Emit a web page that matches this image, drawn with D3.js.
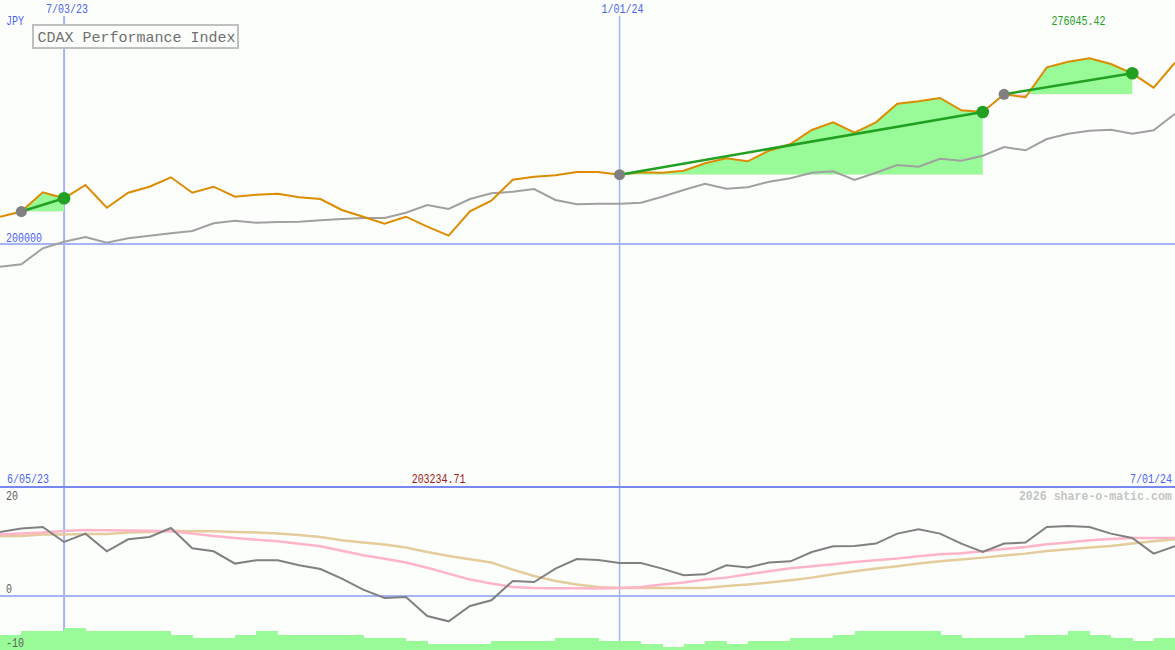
<!DOCTYPE html>
<html>
<head>
<meta charset="utf-8">
<script src="https://cdn.jsdelivr.net/npm/d3@7"></script>
<style>
html,body{margin:0;padding:0;background:#fcfefc;}
svg{display:block;}
text{font-family:"Liberation Mono","DejaVu Sans Mono",monospace;}
</style>
</head>
<body>
<svg id="chart" width="1175" height="650"></svg>
<script>
// ---------------- DATA ----------------
const dates = ["2023-06-12","2023-06-19","2023-06-26","2023-07-03","2023-07-10","2023-07-17","2023-07-24","2023-07-31","2023-08-07","2023-08-14","2023-08-21","2023-08-28","2023-09-04","2023-09-11","2023-09-18","2023-09-25","2023-10-02","2023-10-09","2023-10-16","2023-10-23","2023-10-30","2023-11-06","2023-11-13","2023-11-20","2023-11-27","2023-12-04","2023-12-11","2023-12-18","2023-12-25","2024-01-01","2024-01-08","2024-01-15","2024-01-22","2024-01-29","2024-02-05","2024-02-12","2024-02-19","2024-02-26","2024-03-04","2024-03-11","2024-03-18","2024-03-25","2024-04-01","2024-04-08","2024-04-15","2024-04-22","2024-04-29","2024-05-06","2024-05-13","2024-05-20","2024-05-27","2024-06-03","2024-06-10","2024-06-17","2024-06-24","2024-07-01"];

// CDAX Performance Index in JPY (orange)
const indexJPY = [211006,213141,221026,218562,224024,214702,220862,223326,227187,220862,223326,219220,220041,220452,219014,218275,213757,211006,208131,211006,206899,203234.71,213224,217577,226201,227433,228008,229363,229363,228254,229240,229076,229897,232936,234990,233758,238111,240862,246612,249774,245503,249774,257412,258398,259753,254702,254004,261273,260041,272361,274661,276045.42,273716,269897,263983,274251];

// Comparison series (grey)
const compare = [190473,191459,198030,200740,202669,200329,202136,203204,204190,205133,208295,209363,208542,208829,208911,209527,210061,210472,210472,212649,215811,214168,218275,220616,221273,222381,217864,216098,216345,216345,216755,219220,221971,224558,222505,223080,225379,226776,229076,229651,226078,229076,232238,231540,234826,234004,236058,239630,238275,242915,245092,246324,246735,245092,246489,253307];

// Lower panel: momentum (dark grey) and its two averages (pink, tan)
const momentum = [12.0,12.63,12.93,10.12,11.69,8.38,10.63,11.06,12.74,8.94,8.38,6.07,6.69,6.69,5.75,5.06,3.26,1.19,-0.38,-0.19,-3.76,-4.75,-1.88,-0.81,2.81,2.62,5.13,6.93,6.74,6.18,6.18,5.13,3.88,4.06,5.75,5.32,6.26,6.5,8.24,9.31,9.37,9.82,11.69,12.5,11.69,9.82,8.24,9.82,10.01,12.93,13.12,12.93,11.69,10.87,7.94,9.31];
const avgFast = [11.51,11.69,11.88,12.18,12.37,12.31,12.26,12.22,12.13,11.69,11.24,10.87,10.53,10.25,9.78,9.31,8.47,7.63,6.97,6.26,5.28,4.19,3.07,2.32,1.68,1.49,1.44,1.44,1.38,1.49,1.68,2.13,2.51,3.07,3.44,4.06,4.63,5.19,5.56,5.94,6.37,6.69,7.01,7.44,7.81,8.0,8.38,8.81,9.18,9.69,10.01,10.44,10.68,10.87,10.87,10.87];
const avgSlow = [11.24,11.24,11.51,11.51,11.62,11.62,11.88,11.99,12.22,12.13,12.13,11.99,11.88,11.69,11.43,11.06,10.44,10.01,9.63,9.07,8.24,7.49,6.88,6.26,4.94,3.74,2.81,2.13,1.68,1.49,1.49,1.49,1.49,1.49,1.87,2.13,2.51,2.94,3.44,4.06,4.63,5.13,5.56,6.07,6.5,6.82,7.19,7.57,7.94,8.43,8.75,9.07,9.37,9.82,10.25,10.63];

// Volume histogram (one step per week)
const volume = [15,19,19,22.3,19,19,19,19,15,12.3,12.3,15,19,15,15,15,15,12.3,12.3,9,6.3,6.3,6.3,9,9,9,12.3,12.3,9,9,6,3.3,6,9,6,9,9,12.3,12.3,15,19,19,19,19,15,12.3,12.3,12.3,15,15,19,15,12.3,9,12.3];

// Trend segments (start -> end)
const trendStart = ["2023-06-19","2024-01-01","2024-05-06"];
const trendEnd   = ["2023-07-03","2024-04-29","2024-06-17"];

// Tick labels
const xTickDates  = ["2023-07-03","2024-01-01"];
const xTickLabels = ["7/03/23","1/01/24"];
const yTopTicks = [200000];
const yLowTickValues = [20, 0, -10];
const yLowTickLabels = ["20","0","-10"];
const rangeStartLabel = "6/05/23";
const rangeEndLabel = "7/01/24";
const title = "CDAX Performance Index";
const currency = "JPY";
const watermark = "2026 share-o-matic.com";

// ---------------- DRAW ----------------
const W = 1175, H = 650;
const parse = d3.timeParse("%Y-%m-%d");
const D = dates.map(parse);
const svg = d3.select("#chart");

const x = d3.scaleTime().domain([D[0], D[D.length-1]]).range([0, W]);
const yTop = d3.scaleLinear().domain([100000, 300000]).range([487, 0]);
const yLow = d3.scaleLinear().domain([-10, 20]).range([649.3, 489.3]);
const yVol = d3.scaleLinear().domain([0, 100]).range([650, 550]);

const C = {
  bg:"#fcfefc", gridLight:"#a4b4f4", sep:"#7888f0", blueText:"#4a62f0",
  orange:"#dc8c00", grey:"#a0a0a0", dark:"#808080", pink:"#ffb4c8", tan:"#e4cc9c",
  green:"#22a022", fill:"#98fb98", pinkFill:"#ffc0cb"
};

svg.append("rect").attr("width",W).attr("height",H).attr("fill",C.bg);

// horizontal grid lines
svg.selectAll("line.hgrid").data(yTopTicks).enter().append("line")
  .attr("x1",0).attr("x2",W)
  .attr("y1",d=>Math.round(yTop(d))).attr("y2",d=>Math.round(yTop(d)))
  .attr("stroke",C.gridLight).attr("stroke-width",2);
svg.append("line").attr("x1",0).attr("x2",W)
  .attr("y1",Math.round(yLow(0))).attr("y2",Math.round(yLow(0)))
  .attr("stroke",C.gridLight).attr("stroke-width",2);

// vertical date lines
svg.selectAll("line.vgrid").data(xTickDates).enter().append("line")
  .attr("x1",d=>x(parse(d))).attr("x2",d=>x(parse(d)))
  .attr("y1",16).attr("y2",H)
  .attr("stroke",C.gridLight).attr("stroke-width",(d,i)=>i===0?2:1.5);

// separator
svg.append("line").attr("x1",0).attr("x2",W).attr("y1",487).attr("y2",487)
  .attr("stroke",C.sep).attr("stroke-width",2);

// trend fills
const idx = s => dates.indexOf(s);
const defs = svg.append("defs");
trendStart.forEach((s,k)=>{
  const a = idx(s), b = idx(trendEnd[k]);
  const base = indexJPY[a];
  const pts = d3.range(a, b+1);
  const by = yTop(base);
  const area = d3.area().x(i=>x(D[i])).y0(by).y1(i=>yTop(indexJPY[i]));
  defs.append("clipPath").attr("id","cu"+k).append("rect")
    .attr("x",0).attr("y",0).attr("width",W).attr("height",by);
  defs.append("clipPath").attr("id","cd"+k).append("rect")
    .attr("x",0).attr("y",by).attr("width",W).attr("height",487-by);
  svg.append("path").datum(pts).attr("d",area).attr("fill",C.fill).attr("clip-path","url(#cu"+k+")");
  svg.append("path").datum(pts).attr("d",area).attr("fill",C.pinkFill).attr("clip-path","url(#cd"+k+")");
});

// lines top panel
const lineTop = arr => d3.line().x((d,i)=>x(D[i])).y(d=>yTop(d))(arr);
svg.append("path").attr("d",lineTop(compare)).attr("fill","none").attr("stroke",C.grey).attr("stroke-width",2);
svg.append("path").attr("d",lineTop(indexJPY)).attr("fill","none").attr("stroke",C.orange).attr("stroke-width",2);

// trend lines and dots
trendStart.forEach((s,k)=>{
  const a = idx(s), b = idx(trendEnd[k]);
  svg.append("line")
    .attr("x1",x(D[a])).attr("y1",yTop(indexJPY[a]))
    .attr("x2",x(D[b])).attr("y2",yTop(indexJPY[b]))
    .attr("stroke",C.green).attr("stroke-width",2.5);
  svg.append("circle").attr("cx",x(D[a])).attr("cy",yTop(indexJPY[a])).attr("r",5.5).attr("fill",C.dark);
  svg.append("circle").attr("cx",x(D[b])).attr("cy",yTop(indexJPY[b])).attr("r",6.3).attr("fill",C.green);
});

// lower panel lines
const lineLow = arr => d3.line().x((d,i)=>x(D[i])).y(d=>yLow(d))(arr);
svg.append("path").attr("d",lineLow(avgSlow)).attr("fill","none").attr("stroke",C.tan).attr("stroke-width",2.5);
svg.append("path").attr("d",lineLow(avgFast)).attr("fill","none").attr("stroke",C.pink).attr("stroke-width",2.5);
svg.append("path").attr("d",lineLow(momentum)).attr("fill","none").attr("stroke",C.dark).attr("stroke-width",2);

// volume steps
svg.selectAll("rect.vol").data(volume).enter().append("rect")
  .attr("x",(d,i)=>x(D[i])).attr("width",(d,i)=>x(D[i+1])-x(D[i])+0.5)
  .attr("y",d=>yVol(d)).attr("height",d=>650-yVol(d))
  .attr("fill",C.fill).attr("shape-rendering","crispEdges");

// ---------------- TEXT ----------------
// pixel-font look: 6px advance (10px mono) stretched vertically
function txt(t, px, py, color, anchor, opts){
  const o = Object.assign({size:10, sy:1.3, weight:"normal"}, opts||{});
  const w = t.length*o.size*0.6;
  const sx = anchor==="middle" ? px - w/2 : (anchor==="end" ? px - w : px);
  return svg.append("g").attr("transform",`translate(${sx},${py}) scale(1,${o.sy})`)
    .append("text").attr("x",0).attr("y",0).text(t)
    .attr("fill",color).attr("font-size",o.size+"px").attr("font-weight",o.weight);
}
txt(currency, 6, 25, C.blueText);
xTickDates.forEach((d,i)=> txt(xTickLabels[i], x(parse(d))+3, 13, C.blueText, "middle"));
yTopTicks.forEach(v=> txt(d3.format("d")(v), 6, yTop(v)-1.5, C.blueText));
txt(rangeStartLabel, 7, 483, C.blueText);
txt(rangeEndLabel, 1172, 483, C.blueText, "end");

// max/min labels
const iMax = d3.maxIndex(indexJPY), iMin = d3.minIndex(indexJPY);
txt(d3.format(".2f")(indexJPY[iMax]), x(D[iMax])-11, 25, "#22a022", "middle");
txt(d3.format(".2f")(indexJPY[iMin]), x(D[iMin])-10, 483, "#a01818", "middle");

// lower axis labels
yLowTickValues.forEach((v,i)=>{
  const yy = v===20 ? 500 : (v===0 ? 592.5 : 646.5);
  txt(yLowTickLabels[i], 6, yy, "#606060");
});

// watermark
txt(watermark, 1172, 500, "#c4c4c4", "end", {size:11.6, sy:1.12, weight:"bold"});

// title box
svg.append("rect").attr("x",33).attr("y",25).attr("width",205).attr("height",23)
  .attr("fill",C.bg).attr("stroke","#c0c0c0").attr("stroke-width",2);
svg.append("text").attr("x",37.5).attr("y",41.5).text(title)
  .attr("fill","#707070").attr("font-size","15px");
</script>
</body>
</html>
